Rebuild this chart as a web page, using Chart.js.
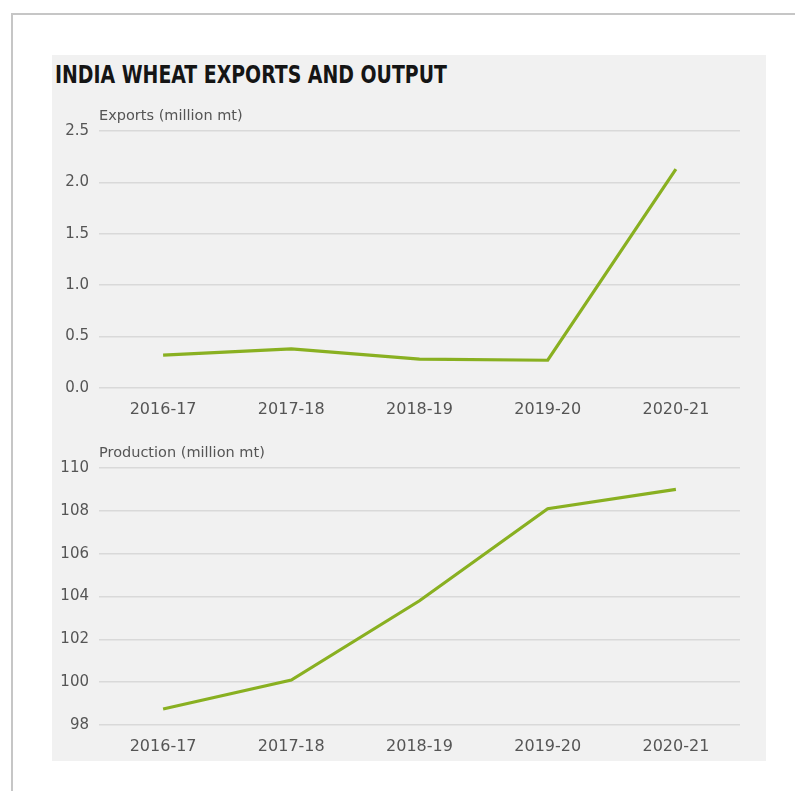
<!DOCTYPE html>
<html lang="en">
<head>
    <meta charset="UTF-8">
    <meta name="viewport" content="width=device-width, initial-scale=1.0">
    <title>India Wheat Exports and Output</title>
    <script src="https://cdn.jsdelivr.net/npm/chart.js"></script>
    <style>
        body { margin: 0; background: #fff; width: 795px; height: 791px; overflow: hidden; position: relative; }
        .frame { position: absolute; left: 11px; top: 13px; width: 800px; height: 800px;
                 border-top: 2px solid #c6c6c6; border-left: 2px solid #c6c6c6; }
        .panel { position: absolute; left: 52px; top: 55px; width: 714px; height: 706px; background: #f1f1f1; }
        h1 { position: absolute; left: 3px; top: 6px; margin: 0; font-family: "DejaVu Sans Condensed", sans-serif;
             font-weight: bold; font-size: 24px; color: #151515; white-space: nowrap;
             transform: scaleX(0.875); transform-origin: left top; }
        .box { position: absolute; left: 0; width: 714px; }
    </style>
</head>
<body>
    <div class="frame"></div>
    <div class="panel">
        <h1>INDIA WHEAT EXPORTS AND OUTPUT</h1>
        <div class="box" style="top: 40px; height: 330px;"><canvas id="exportsChart"></canvas></div>
        <div class="box" style="top: 375px; height: 330px;"><canvas id="outputChart"></canvas></div>
    </div>

    <script>
        const years = ["2016-17", "2017-18", "2018-19", "2019-20", "2020-21"];
        const exportsValues = [0.32, 0.38, 0.28, 0.27, 2.13];
        const productionValues = [98.75, 100.1, 103.8, 108.1, 109.0];

        const green = "#89b021";

        // draws the little unit label just above the top gridline
        const unitLabel = {
            id: "unitLabel",
            afterDraw(chart, args, opts) {
                const ctx = chart.ctx;
                ctx.save();
                ctx.font = "14.5px 'DejaVu Sans'";
                ctx.fillStyle = "#555";
                ctx.textBaseline = "middle";
                ctx.fillText(opts.text, chart.chartArea.left, chart.chartArea.top - 15);
                ctx.restore();
            }
        };

        function makeChart(id, values, label, min, max, step, padTop, xHeight) {
            return new Chart(document.getElementById(id), {
                type: "line",
                data: {
                    labels: years,
                    datasets: [{
                        data: values,
                        borderColor: green,
                        borderWidth: 3.2,
                        pointRadius: 0,
                        tension: 0,
                        fill: false
                    }]
                },
                options: {
                    responsive: true,
                    maintainAspectRatio: false,
                    animation: false,
                    layout: { padding: { top: padTop, right: 26, left: 0, bottom: 0 } },
                    plugins: {
                        legend: { display: false },
                        tooltip: { enabled: false },
                        unitLabel: { text: label }
                    },
                    scales: {
                        x: {
                            offset: true,
                            grid: { display: false, drawTicks: false },
                            border: { display: false },
                            ticks: { color: "#555", font: { family: "DejaVu Sans", size: 16 }, padding: 12, maxRotation: 0 },
                            afterFit(scale) { scale.height = xHeight; }
                        },
                        y: {
                            min: min,
                            max: max,
                            grid: { color: "#d9d9d9", lineWidth: 1.5, drawTicks: false },
                            border: { display: false },
                            ticks: {
                                stepSize: step,
                                color: "#555",
                                font: { family: "DejaVu Sans", size: 15 },
                                padding: 10,
                                callback: v => step < 1 ? v.toFixed(1) : v
                            },
                            afterFit(scale) { scale.width = 47; }
                        }
                    }
                },
                plugins: [unitLabel]
            });
        }

        makeChart("exportsChart", exportsValues, "Exports (million mt)", 0, 2.5, 0.5, 36, 37);
        makeChart("outputChart", productionValues, "Production (million mt)", 98, 110, 2, 38, 35);
    </script>
</body>
</html>
